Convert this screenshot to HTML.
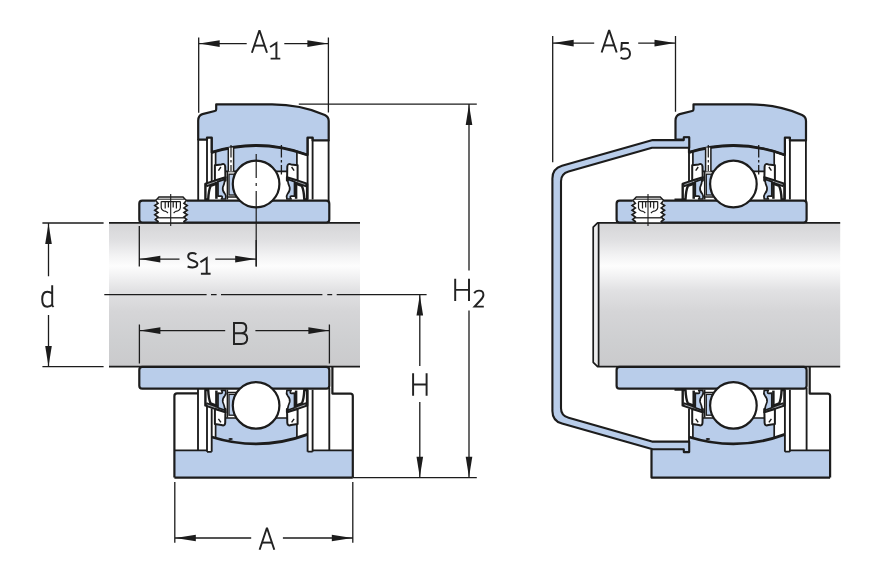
<!DOCTYPE html>
<html><head><meta charset="utf-8"><title>Bearing unit dimensions</title>
<style>
html,body{margin:0;padding:0;background:#fff;}
body{width:880px;height:586px;overflow:hidden;font-family:"Liberation Sans",sans-serif;}
svg{display:block;}
text{font-family:"Liberation Sans",sans-serif;fill:#222;}
.o{fill:none;stroke:#1c1c1c;stroke-width:2.2;stroke-linejoin:round;}
.t{fill:none;stroke:#1c1c1c;stroke-width:1.85;stroke-linejoin:round;}
.d{fill:none;stroke:#1c1c1c;stroke-width:1.3;}
.a{fill:#1c1c1c;stroke:none;}
</style></head><body>
<svg width="880" height="586" viewBox="0 0 880 586">
<defs>
<linearGradient id="shaft" x1="0" y1="0" x2="0" y2="1">
<stop offset="0" stop-color="#d5d5d7"/>
<stop offset="0.12" stop-color="#e0e0e2"/>
<stop offset="0.23" stop-color="#f3f3f4"/>
<stop offset="0.30" stop-color="#fdfdfd"/>
<stop offset="0.37" stop-color="#f2f2f3"/>
<stop offset="0.47" stop-color="#e1e1e3"/>
<stop offset="0.62" stop-color="#d5d5d7"/>
<stop offset="0.82" stop-color="#cecfd1"/>
<stop offset="1" stop-color="#cacacc"/>
</linearGradient>
<g id="sealL">
<path d="M205.4,199.4 L205.4,184 L225.4,177.3 L225.4,180.4 L210.6,186 Q208.6,190.5 208.2,199.4 Z" fill="#fff" stroke="#1c1c1c" stroke-width="2.4" stroke-linejoin="round"/>
<path d="M206.2,186 L225.2,179.3" stroke="#1c1c1c" stroke-width="2.4" fill="none"/>
<path d="M207.2,184.6 L224,178.8" stroke="#e8eef8" stroke-width="0.6" fill="none"/>
<path d="M214.9,180.4 L214.9,165.3 L221.4,164.4 Q224.9,163 225.2,166.6 L225.4,177.2 Z" fill="#fff" stroke="#1c1c1c" stroke-width="2" stroke-linejoin="round"/>
<path d="M218.4,170.6 L220.9,167" stroke="#1c1c1c" stroke-width="1.4"/>
<path d="M216.4,182 L216.4,198.8" stroke="#1c1c1c" stroke-width="2.5"/>
<path d="M218,181.6 L225,179.2 Q224.6,183.5 222.8,187.4 Q222.2,191 224.8,193.6 Q226.6,196 225.6,199 L221.4,199 Q223.2,196.2 221.2,196 L218,196.2 Z" fill="#b9cdea" stroke="#1c1c1c" stroke-width="1.7" stroke-linejoin="round"/>
</g>
<!-- symmetric half of the insert (top); mirrored about the shaft axis for the bottom -->
<g id="half">
<rect x="139.3" y="200.7" width="190" height="21.8" rx="3" ry="3" fill="#b9cdea" stroke="#1c1c1c" stroke-width="2.2"/>
<path d="M215.6,151.3 A148.8,148.8 0 0 1 296.9,151.3 L296.9,164.8 L287.6,164.8 L287.6,171.4 L225.4,171.4 L225.4,164.8 L215.6,164.8 Z" fill="#b9cdea" stroke="none"/>
<path d="M215.6,151.6 L215.6,165 M296.9,151.6 L296.9,165 M225.4,171.4 L236,171.4 M276,171.4 L287.6,171.4" stroke="#1c1c1c" stroke-width="1.7" fill="none"/>
<path d="M227.4,171.6 L227.4,199.6 M227.4,197 L236,197" fill="none" stroke="#1c1c1c" stroke-width="1.5"/>
<rect x="229" y="174.2" width="7" height="20.8" fill="#b9cdea" stroke="#1c1c1c" stroke-width="1.3"/>
<path d="M211.7,152.4 A148.8,148.8 0 0 1 307.6,155" fill="none" stroke="#1c1c1c" stroke-width="2.8"/>
<!-- retaining rings: left right-edge, right both edges -->
<path class="t" d="M211.7,137.6 L211.7,181 M307.6,137.6 L307.6,199.6 M312.6,137.6 L312.6,199.6"/>
<use href="#sealL"/>
<use href="#sealL" transform="translate(512.5,0) scale(-1,1)"/>
<circle cx="256.1" cy="184" r="23.3" fill="#fff" stroke="#1c1c1c" stroke-width="2.2"/>
</g>
<g id="ringL"><path class="t" d="M207,137.6 L207,184"/></g>
<g id="screw">
<path d="M155.4,200.6 L159,196.9 L183,196.9 L186.6,200.6 L186.6,220 L183.4,222.2 L158.6,222.2 L155.4,220 Z" fill="#fff" stroke="none"/>
<path d="M155.2,201 L159,196.9 L183,196.9 L186.8,201" fill="none" stroke="#1c1c1c" stroke-width="1.5"/>
<path d="M157.6,199.2 L184.4,199.2" stroke="#1c1c1c" stroke-width="1"/>
<path d="M156,201 L158,203.3 L154.8,205.6 L158,207.9 L154.8,210.2 L158,212.5 L154.8,214.8 L158,217.1 L155.4,219.4 L158.6,222" fill="none" stroke="#1c1c1c" stroke-width="1.7"/>
<path d="M186,201 L184,203.3 L187.2,205.6 L184,207.9 L187.2,210.2 L184,212.5 L187.2,214.8 L184,217.1 L186.6,219.4 L183.4,222" fill="none" stroke="#1c1c1c" stroke-width="1.7"/>
<path d="M157.6,217.8 L184.4,217.8" stroke="#1c1c1c" stroke-width="1.3"/>
<path d="M161.2,201.5 L161.2,207.5 Q161.5,211 166,211.4 M180.4,201.5 L180.4,207.5 Q180.1,211 175.6,211.4 M165.2,201.5 L165.2,208.4 M176.4,201.5 L176.4,208.4 M168.4,201.5 L168.4,207.4 M173.2,201.5 L173.2,207.4 M166,211.4 L168,213 M175.6,211.4 L173.6,213 M161.2,201.6 L180.4,201.6" fill="none" stroke="#1c1c1c" stroke-width="1.2"/>
<path d="M170.7,194 L170.7,226" stroke="#1c1c1c" stroke-width="1.1"/>
</g>
<g id="topbody">
<path d="M198.2,139.6 L198.2,120.5 Q198.3,115.4 202.4,114.1 L214.8,111 Q216.2,110.7 216.2,109.2 L216.2,104.4 L272,104.4 C290,104.4 310,108.5 324.8,114.9 Q328.7,116.8 328.7,121 L328.7,140.4 L312.6,140.4 L312.6,137.6 L307.6,137.6 L307.6,155 A148.8,148.8 0 0 0 211.7,152.4 L211.7,137.6 L207,137.6 L207,139.6 Z" fill="#b9cdea" stroke="#1c1c1c" stroke-width="2.2" stroke-linejoin="round"/>
<path class="t" d="M328.6,140 L328.6,201"/>
</g>
<g id="lube">
<rect x="228.3" y="147.6" width="5.3" height="23.8" fill="#fff" stroke="none"/>
<path d="M228.3,147.4 L228.3,171.4 M233.6,147 L233.6,171.4" stroke="#1c1c1c" stroke-width="1.5"/>
<path d="M231,145 L231,171" stroke="#1c1c1c" stroke-width="1.2" stroke-dasharray="12.5 2.5 2.5 2.5 20"/>
<path d="M281.4,145 L281.4,174.6" stroke="#1c1c1c" stroke-width="1.3" stroke-dasharray="12.5 2.5 2.5 2.5 20"/>
</g>
<g id="botlines">
<ellipse cx="230.6" cy="439.1" rx="2.2" ry="1" fill="#1c1c1c"/>
<path class="t" d="M307.6,451.6 L312.6,451.6 M329.3,388 L329.3,450.4 M312.6,450.4 L352.8,450.4"/>
<path class="o" d="M332.4,367 L332.4,393.6 L350.4,393.6 Q352.8,393.6 352.8,396 L352.8,477.6"/>
</g>
</defs>

<!-- LEFT FIGURE -->
<rect x="109" y="223" width="251" height="143.6" fill="url(#shaft)"/>
<path d="M109,222.9 L360,222.9 M109,366.6 L360,366.6" stroke="#1c1c1c" stroke-width="1.6" fill="none"/>
<use href="#topbody"/>
<path class="t" d="M198.2,139 L198.2,200.6"/>
<path d="M174.4,450.4 L207,450.4 L207,451.8 L211.7,451.8 L211.7,437 A148.8,148.8 0 0 0 307.6,434.4 L307.6,451.6 L312.6,451.6 L312.6,450.4 L352.8,450.4 L352.8,477.6 L174.4,477.6 Z" fill="#b9cdea"/>
<use href="#half"/>
<use href="#ringL"/>
<use href="#lube"/>
<use href="#screw"/>
<use href="#half" transform="translate(0,589.4) scale(1,-1)"/>
<use href="#ringL" transform="translate(0,589.4) scale(1,-1)"/>
<use href="#botlines"/>
<path class="o" d="M174.4,477.6 L174.4,396 Q174.4,393.4 177,393.4 L198,393.4 M174.4,477.6 L352.8,477.6"/>
<path class="t" d="M198,389 L198,450.4 M174.4,450.4 L207,450.4 M207,451.8 L211.7,451.8"/>

<path d="M256.2,154 L256.2,178 M256.2,183 L256.2,186 M256.2,191 L256.2,266.6" stroke="#1c1c1c" stroke-width="1.2"/>
<path d="M104.3,294.6 L206.6,294.6 M211,294.6 L216.6,294.6 M221,294.6 L322.4,294.6 M327.3,294.6 L332.2,294.6 M336.7,294.6 L426.6,294.6" class="d"/>
<path class="d" d="M198.7,37.4 L198.7,112.7 M328.4,37.4 L328.4,112.4 M199,43.6 L246.7,43.6 M284.3,43.6 L328,43.6"/>
<path class="a" d="M199.2,43.6 L219.7,40.300000000000004 L219.7,46.9 Z"/>
<path class="a" d="M327.9,43.6 L307.4,40.300000000000004 L307.4,46.9 Z"/>
<path class="d" d="M298.8,104.2 L476.8,104.2 M353,477.6 L476.8,477.6 M469,104.4 L469,270.4 M469,310.5 L469,477.4 M419.8,295 L419.8,366 M419.8,402 L419.8,477.4"/>
<path class="a" d="M469,104.6 L465.7,125.1 L472.3,125.1 Z"/>
<path class="a" d="M469,477.3 L465.7,456.8 L472.3,456.8 Z"/>
<path class="a" d="M419.8,295 L416.5,315.5 L423.1,315.5 Z"/>
<path class="a" d="M419.8,477.3 L416.5,456.8 L423.1,456.8 Z"/>
<path class="d" d="M42.4,223 L103.6,223 M42.4,366.7 L103.6,366.7 M48.5,223.4 L48.5,276.2 M48.5,315 L48.5,366.3"/>
<path class="a" d="M48.5,223.4 L45.2,243.9 L51.8,243.9 Z"/>
<path class="a" d="M48.5,366.4 L45.2,345.9 L51.8,345.9 Z"/>
<path class="d" d="M139.3,226 L139.3,266.6 M256.2,240 L256.2,266.6 M139.6,259.1 L179.5,259.1 M215.3,259.1 L256,259.1"/>
<path class="a" d="M139.8,259.1 L160.3,255.8 L160.3,262.40000000000003 Z"/>
<path class="a" d="M255.7,259.1 L235.2,255.8 L235.2,262.40000000000003 Z"/>
<path class="d" d="M139.4,324.4 L139.4,363.6 M329.4,324.4 L329.4,363.6 M139.6,330.6 L225.2,330.6 M255.4,330.6 L329,330.6"/>
<path class="a" d="M139.9,330.6 L160.4,327.3 L160.4,333.90000000000003 Z"/>
<path class="a" d="M328.9,330.6 L308.4,327.3 L308.4,333.90000000000003 Z"/>
<path class="d" d="M174.8,481.9 L174.8,542.8 M352.8,481.9 L352.8,542.8 M175,538 L251.2,538 M282.9,538 L352.4,538"/>
<path class="a" d="M175.3,538 L195.8,534.7 L195.8,541.3 Z"/>
<path class="a" d="M352.3,538 L331.8,534.7 L331.8,541.3 Z"/>
<path class="d" d="M552.7,36 L552.7,162.3 M675.5,36 L675.5,111.8 M553,43.1 L594.2,43.1 M638.2,43.1 L675,43.1"/>
<path class="a" d="M553.2,43.1 L573.7,39.800000000000004 L573.7,46.4 Z"/>
<path class="a" d="M675,43.1 L654.5,39.800000000000004 L654.5,46.4 Z"/>
<!-- RIGHT FIGURE -->
<path d="M593.2,227.2 L597.6,222.9 L840.2,222.9 L840.2,366.6 L597.6,366.6 L593.2,362.3 Z" fill="url(#shaft)"/>
<path d="M593.2,227.2 L597.6,222.9 L598.6,222.9 L598.6,366.6 L597.6,366.6 L593.2,362.3 Z" fill="#ededee"/>
<path d="M840.2,222.9 L597.6,222.9 L593.2,227.2 L593.2,362.3 L597.6,366.6 L840.2,366.6 M598.6,222.9 L598.6,366.6" stroke="#1c1c1c" stroke-width="1.7" fill="none" stroke-linejoin="round"/>
<g transform="translate(477.3,0)">
<use href="#topbody"/>
<path d="M174.2,450 L207,450 L207,452.2 L211.7,452.2 L211.7,437 A148.8,148.8 0 0 0 307.6,434.4 L307.6,451.6 L312.6,451.6 L312.6,450.4 L352.8,450.4 L352.8,477.6 L174.2,477.6 Z" fill="#b9cdea"/>
<use href="#half"/>
<use href="#lube"/>
<use href="#screw"/>
<use href="#half" transform="translate(0,589.4) scale(1,-1)"/>
<use href="#botlines"/>
<path class="o" d="M174.2,449.6 L174.2,477.6 L352.8,477.6"/>
<path class="t" d="M197.2,199.5 L205,199.5 M197.2,389.9 L205,389.9"/>
</g>


<path d="M689.2,137.3 L683.8,137.3 L683.8,140.1 L652.7,140.1 L562,165.8 Q552.4,168.6 552.4,178.5 L552.4,410.9 Q552.4,420.8 562,423.6 L652.7,449.3 L683.8,449.3 L683.8,452.1 L689.2,452.1 L689.2,441.6 L652,441.6 L568.6,417.8 Q561,415.6 561,408.2 L561,181.2 Q561,173.8 568.6,171.6 L652,147.8 L689.2,147.8 Z" fill="#b9cdea" stroke="#1c1c1c" stroke-width="2.1" stroke-linejoin="round"/>
<path fill="none" stroke="#222" stroke-width="1.95" stroke-linejoin="miter" stroke-miterlimit="3" d="M251.9,52.7 L259.45,30.300000000000004 L267.0,52.7"/><path fill="none" stroke="#222" stroke-width="1.95" stroke-linejoin="miter" stroke-miterlimit="3" d="M254.3915,45.6 L264.5085,45.6"/>
<path fill="none" stroke="#222" stroke-width="1.95" stroke-linejoin="miter" stroke-miterlimit="3" d="M270.1,47.0 L276.40000000000003,43.0 L276.40000000000003,58.6 M270.6,58.6 L280.3,58.6"/>
<path fill="none" stroke="#222" stroke-width="1.95" stroke-linejoin="miter" stroke-miterlimit="3" d="M601.6,52.5 L609.15,30.1 L616.7,52.5"/><path fill="none" stroke="#222" stroke-width="1.95" stroke-linejoin="miter" stroke-miterlimit="3" d="M604.0915,45.4 L614.2085000000001,45.4"/>
<path fill="none" stroke="#222" stroke-width="1.95" stroke-linejoin="miter" stroke-miterlimit="3" d="M628.8000000000001,42.9 L621.8000000000001,42.9 L621.3000000000001,49.8 Q623.1,48.5 625.2,48.5 C628.2,48.5 630.0,50.8 630.0,53.699999999999996 C630.0,56.599999999999994 628.0,58.8 625.0,58.8 Q622.4,58.8 620.6,57.4"/>
<path fill="none" stroke="#222" stroke-width="1.95" stroke-linejoin="miter" stroke-miterlimit="3" d="M259.6,549.7 L266.95000000000005,527.7 L274.3,549.7"/><path fill="none" stroke="#222" stroke-width="1.95" stroke-linejoin="miter" stroke-miterlimit="3" d="M262.0255,542.6 L271.8745,542.6"/>
<path fill="none" stroke="#222" stroke-width="1.95" stroke-linejoin="miter" stroke-miterlimit="3" d="M241,333.3 L234,333.3 M241.4,344 L234,344 L234,323 L241.4,323 C244.6,323 246.3,325 246.3,328 C246.3,331 244.4,333.2 241,333.3 C245,333.3 247.2,335.4 247.2,338.6 C247.2,342 245,344 241.4,344"/>
<path fill="none" stroke="#222" stroke-width="1.95" stroke-linejoin="miter" stroke-miterlimit="3" d="M196.4,254.2 C195.0,253.3 193.6,253.0 192.2,253.0 C189.6,253.0 188.2,254.5 188.2,256.5 C188.2,258.9 190.2,259.7 192.6,260.5 C195.2,261.3 197.4,262.1 197.4,264.1 C197.4,266.3 195.4,267.5 192.6,267.5 C190.6,267.5 189.0,267.1 187.6,266.5"/>
<path fill="none" stroke="#222" stroke-width="1.95" stroke-linejoin="miter" stroke-miterlimit="3" d="M200.4,262.09999999999997 L206.70000000000002,258.09999999999997 L206.70000000000002,273.7 M200.9,273.7 L210.6,273.7"/>
<path fill="none" stroke="#222" stroke-width="1.95" stroke-linejoin="miter" stroke-miterlimit="3" d="M52.2,285.2 L52.2,305.6 L53.6,306.9 M52.2,293.5 C50.6,292.2 49,291.7 47.3,291.7 C44,291.7 42.2,294.6 42.2,299.2 C42.2,303.8 44,306.7 47.3,306.7 C49.2,306.7 50.8,306 52.2,304.6"/>
<path fill="none" stroke="#222" stroke-width="1.95" stroke-linejoin="miter" stroke-miterlimit="3" d="M455.2,300.9 L455.2,278.79999999999995 M469.0,300.9 L469.0,278.79999999999995 M455.2,289.84999999999997 L469.0,289.84999999999997"/>
<path fill="none" stroke="#222" stroke-width="1.95" stroke-linejoin="miter" stroke-miterlimit="3" d="M474.2,293.3 C475.4,291.3 477.2,290.6 479.0,290.6 C481.79999999999995,290.6 483.4,292.40000000000003 483.4,294.90000000000003 C483.4,297.20000000000005 482.0,298.8 480.0,300.8 L474.59999999999997,306.6 L483.79999999999995,306.6"/>
<path fill="none" stroke="#222" stroke-width="1.95" stroke-linejoin="miter" stroke-miterlimit="3" d="M413.1,395.7 L413.1,373.3 M426.6,395.7 L426.6,373.3 M413.1,384.5 L426.6,384.5"/>
</svg>
</body></html>
